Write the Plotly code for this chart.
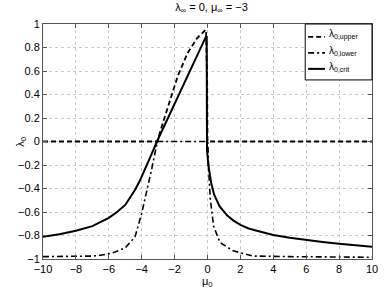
import plotly.graph_objects as go

# Data
upper_x = [-10, -3.05, -2.8, -2.4, -1.8, -1.22, -0.63, -0.19, -0.09, -0.02, 0.0, 10]
upper_y = [0, 0, 0.12, 0.30, 0.56, 0.75, 0.88, 0.94, 0.95, 0.5, 0, 0]

lower_x = [-10, -8, -7, -6.6, -5.8, -5.0, -4.4, -4.0, -3.7, -3.4, -3.05, 0.02, 0.07, 0.17, 0.37, 0.76, 1.56, 2.76, 5, 10]
lower_y = [-0.98, -0.98, -0.975, -0.97, -0.95, -0.905, -0.81, -0.61, -0.43, -0.24, 0, 0, -0.24, -0.49, -0.72, -0.86, -0.93, -0.975, -0.98, -0.985]

crit_x = [-10, -9, -8, -7, -6, -5.5, -5, -4.7, -4.4, -4.1, -3.8, -3.5, -3.07, -2.4, -1.5, -0.6, -0.1, -0.05, -0.03,
          0.05, 0.1, 0.22, 0.4, 0.73, 1.2, 1.6, 2, 2.5, 3, 3.5, 4, 5, 6, 7, 8, 9, 10]
crit_y = [-0.81, -0.79, -0.76, -0.72, -0.65, -0.60, -0.54, -0.48, -0.41, -0.33, -0.24, -0.14, 0, 0.2, 0.47, 0.74, 0.89, 0.89, -0.07,
          -0.2, -0.26, -0.35, -0.45, -0.55, -0.63, -0.675, -0.71, -0.74, -0.76, -0.78, -0.795, -0.82, -0.84, -0.855, -0.87, -0.885, -0.895]

series_names = ["λ<sub>0,upper</sub>", "λ<sub>0,lower</sub>", "λ<sub>0,crit</sub>"]

x_ticks = [-10, -8, -6, -4, -2, 0, 2, 4, 6, 8, 10]
y_ticks = [-1, -0.8, -0.6, -0.4, -0.2, 0, 0.2, 0.4, 0.6, 0.8, 1]
y_labels = ["\u22121", "\u22120.8", "\u22120.6", "\u22120.4", "\u22120.2", "0", "0.2", "0.4", "0.6", "0.8", "1"]
x_labels = ["\u221210", "\u22128", "\u22126", "\u22124", "\u22122", "0", "2", "4", "6", "8", "10"]

styles = [dict(color="black", width=1.8, dash="5px,3px"),
          dict(color="black", width=1.6, dash="6px,3px,2px,3px"),
          dict(color="black", width=2, dash="solid")]

fig = go.Figure()
for xs, ys, nm, st in zip([upper_x, lower_x, crit_x], [upper_y, lower_y, crit_y], series_names, styles):
    fig.add_trace(go.Scatter(x=xs, y=ys, mode="lines", name=nm, line=st, showlegend=False))

# Custom legend box (MATLAB style)
shapes = [dict(type="rect", xref="paper", yref="paper", x0=0.797, x1=1.0, y0=0.762, y1=1.0,
               line=dict(color="black", width=1), fillcolor="white", layer="above")]
annotations = []
leg_y = [0.945, 0.877, 0.809]
for ly, nm, st in zip(leg_y, series_names, styles):
    shapes.append(dict(type="line", xref="paper", yref="paper", x0=0.806, x1=0.857, y0=ly, y1=ly,
                       line=dict(color="black", width=st["width"], dash=st["dash"]), layer="above"))
    annotations.append(dict(text=nm, xref="paper", yref="paper", x=0.862, y=ly + 0.01,
                            xanchor="left", yanchor="middle", showarrow=False,
                            font=dict(size=10)))

annotations += [
    dict(text="λ<sub>0</sub>", xref="paper", yref="paper", x=-0.069, y=0.5,
         xanchor="center", yanchor="middle", textangle=-90, showarrow=False,
         font=dict(size=11)),
    dict(text="μ<sub>0</sub>", xref="paper", yref="paper", x=0.5, y=-0.098,
         xanchor="center", yanchor="middle", showarrow=False, font=dict(size=11)),
]

axis_common = dict(showline=True, linecolor="#555", linewidth=1, mirror="ticks",
                   ticks="inside", ticklen=4, tickcolor="#555",
                   showgrid=True, gridcolor="#c8c8c8", griddash="dot", gridwidth=1,
                   zeroline=False, tickfont=dict(size=11, color="black"))

fig.update_layout(
    width=388, height=291,
    margin=dict(l=43, r=10, t=24, b=32),
    paper_bgcolor="white", plot_bgcolor="white",
    font=dict(family="Liberation Sans, Arial, sans-serif", color="black", size=11),
    title=dict(text="λ<sub>∞</sub> = 0, μ<sub>∞</sub> = \u22123", x=0.545, xanchor="center",
               y=0.99, yanchor="top", font=dict(size=11)),
    showlegend=False,
    shapes=shapes,
    annotations=annotations,
)
fig.update_xaxes(range=[-10, 10], tickvals=x_ticks, ticktext=x_labels, **axis_common)
fig.update_yaxes(range=[-1, 1], tickvals=y_ticks, ticktext=y_labels, **axis_common)

fig.write_html("out.html", config={"displayModeBar": False},
               post_script="document.body.style.margin='0';document.body.style.padding='0';")
